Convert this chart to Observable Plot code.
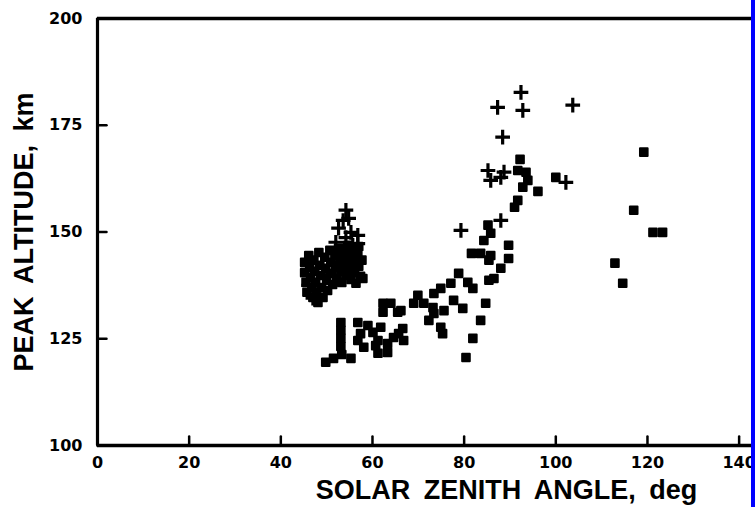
<!DOCTYPE html>
<html>
<head>
<meta charset="utf-8">
<script src="https://cdn.jsdelivr.net/npm/d3@7"></script>
<script src="https://cdn.jsdelivr.net/npm/@observablehq/plot@0.6"></script>
<style>
  html, body { margin: 0; padding: 0; background: #fff; }
  #chart { width: 751px; height: 507px; border-right: 4px solid #0000ff; overflow: hidden; }
  #chart g[aria-label="text"] text { word-spacing: 6px; }
</style>
</head>
<body>
<div id="chart"></div>
<script>
// Peak altitude versus solar zenith angle; two kinds of observation (squares, pluses).
const squareAngle = [
  45.2, 45.2, 45.5, 45.7, 46.1, 46.3, 46.5, 46.8, 47.0, 47.2, 47.4, 47.6, 47.8, 48.1, 48.3, 48.5, 48.7,
  48.9, 49.2, 49.6, 49.8, 50.0, 50.2, 50.7, 50.9, 51.1, 51.3, 51.8, 52.0, 52.2, 52.6, 52.9, 53.1, 53.3,
  53.7, 53.9, 54.2, 54.6, 54.8, 55.0, 55.3, 55.7, 55.9, 56.1, 56.4, 56.8, 57.0, 57.4, 57.7, 57.0, 57.9,
  53.1, 53.1, 53.1, 53.1, 53.3, 49.8, 51.5, 55.3, 56.8, 59.0, 57.4, 56.8, 58.1, 60.1, 61.8, 61.2, 62.3,
  64.0, 62.3, 65.5, 60.7, 61.2, 63.3, 63.3, 64.6, 66.6, 66.8, 65.7,
  78.8, 77.1, 80.8, 81.9, 74.9, 73.4, 69.9, 69.0, 71.2, 73.2, 73.4, 75.6, 77.7, 79.7, 72.3, 74.9, 75.3,
  66.2, 84.7, 83.6, 81.9, 80.4, 85.4, 86.5, 88.0, 89.7, 81.6, 83.6, 85.8, 85.4, 84.3, 85.2, 85.8, 89.7,
  92.2, 91.7, 93.5, 93.9, 92.8, 96.1, 100.0, 91.7, 91.0,
  119.2, 117.0, 121.2, 123.3, 112.9, 114.6
];
const squareAltitude = [
  142.9, 140.5, 138.2, 135.9, 144.5, 141.7, 139.4, 137.0, 134.7, 143.4, 140.8, 138.2, 135.9, 133.5, 145.2, 142.2, 139.8,
  137.0, 134.7, 144.1, 141.5, 138.7, 136.3, 145.7, 142.9, 140.3, 137.7, 144.5, 141.7, 139.1, 146.2, 143.4, 140.8, 138.2,
  145.2, 142.4, 139.8, 146.9, 144.1, 141.5, 138.9, 145.7, 142.9, 140.5, 138.0, 144.5, 142.0, 139.6, 143.4, 146.6, 139.1,
  128.8, 127.0, 125.1, 123.2, 121.3, 119.5, 120.4, 120.4, 128.8, 128.1, 126.2, 124.6, 123.0, 126.5, 127.7, 124.6, 133.3,
  133.3, 131.2, 131.2, 123.4, 121.6, 121.8, 123.9, 125.3, 127.4, 124.6, 126.2,
  140.3, 138.0, 138.2, 136.8, 136.8, 135.6, 135.2, 133.3, 133.3, 132.3, 130.9, 131.6, 134.0, 132.1, 129.3, 127.7, 126.2,
  131.6, 133.3, 129.3, 125.1, 120.6, 138.7, 139.1, 141.5, 143.8, 145.0, 145.0, 144.5, 143.4, 148.0, 151.6, 149.7, 146.9,
  167.0, 164.4, 164.0, 162.1, 160.5, 159.5, 162.8, 157.4, 155.8,
  168.7, 155.1, 149.9, 149.9, 142.7, 138.0
];
const plusAngle = [
  54.2, 53.6, 54.8, 52.6, 55.3, 56.8, 54.2, 56.8, 55.7, 52.0, 47.0, 48.3, 50.0, 51.6, 46.1,
  92.4, 87.3, 92.8, 103.7, 88.4, 85.2, 85.8, 88.7, 88.0, 102.2, 79.3, 88.0
];
const plusAltitude = [
  155.1, 152.7, 153.2, 150.9, 149.9, 149.2, 148.7, 147.3, 146.9, 147.6, 134.5, 136.3, 139.8, 142.9, 137.5,
  182.7, 179.2, 178.5, 179.7, 172.2, 164.4, 162.1, 164.0, 162.8, 161.6, 150.4, 152.7
];
const xTicks = [0, 20, 40, 60, 80, 100, 120, 140];
const yTicks = [100, 125, 150, 175, 200];
const xTitle = "SOLAR ZENITH ANGLE, deg";
const yTitle = "PEAK ALTITUDE, km";

const squares = squareAngle.map((a, i) => ({angle: a, altitude: squareAltitude[i]}));
const pluses = plusAngle.map((a, i) => ({angle: a, altitude: plusAltitude[i]}));

// Short inward tick: a straight stroke from the anchor point along the vector direction.
const tickLine = {draw(context, l) { context.moveTo(0, 0); context.lineTo(0, -l); }};

const labelFont = {fontSize: 16, fontFamily: "DejaVu Sans", fontWeight: "bold"};
const titleFont = {fontSize: 27, fontFamily: "Liberation Sans", fontWeight: "bold", fill: "black"};

const chart = Plot.plot({
  width: 751,
  height: 507,
  marginLeft: 97,
  marginRight: 0,
  marginTop: 18,
  marginBottom: 62,
  x: {domain: [0, 142.7], label: null},
  y: {domain: [100, 200], label: null},
  style: {background: "white", color: "black", fontFamily: "Liberation Sans"},
  marks: [
    Plot.axisX({ticks: xTicks, tickSize: 0, tickPadding: 11, label: null, ...labelFont}),
    Plot.axisY({ticks: yTicks, tickSize: 0, tickPadding: 15, label: null, ...labelFont}),
    Plot.vector(xTicks, {x: (d) => d, y: () => 100, length: 9, rotate: 0, anchor: "start", shape: tickLine, stroke: "black", strokeWidth: 2.5}),
    Plot.vector(yTicks, {x: () => 0, y: (d) => d, length: 9, rotate: 90, anchor: "start", shape: tickLine, stroke: "black", strokeWidth: 2.5}),
    Plot.ruleY([100, 200], {stroke: "black", strokeWidth: 3.5}),
    Plot.ruleX([0], {stroke: "black", strokeWidth: 3.2}),
    Plot.dot(squares, {x: "angle", y: "altitude", symbol: "square", r: 4.3, fill: "black", stroke: "black", strokeWidth: 2, strokeLinejoin: "round"}),
    Plot.dot(pluses, {x: "angle", y: "altitude", symbol: "plus", r: 4.8, stroke: "black", strokeWidth: 3.2}),
    Plot.text([xTitle], {frameAnchor: "bottom", dx: 82, dy: 45, lineAnchor: "middle", textAnchor: "middle", ...titleFont}),
    Plot.text([yTitle], {frameAnchor: "left", rotate: -90, dx: -73, lineAnchor: "middle", textAnchor: "middle", ...titleFont})
  ]
});

document.getElementById("chart").appendChild(chart);
</script>
</body>
</html>
